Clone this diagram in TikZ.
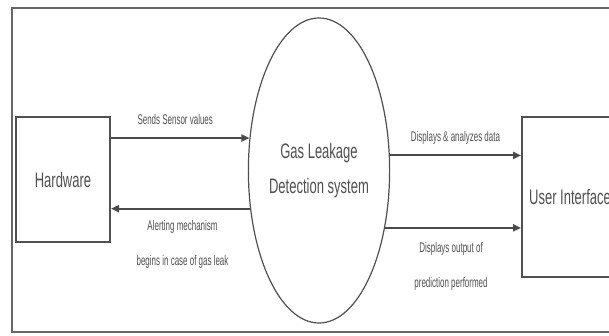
\documentclass[tikz,border=0pt]{standalone}
\usepackage{fontspec}
\setmainfont{Liberation Sans}
\newfontfamily\bigfnt[FakeStretch=0.62]{Liberation Sans}
\newfontfamily\smallfnt[FakeStretch=0.57]{Liberation Sans}
\usetikzlibrary{arrows.meta,shapes.geometric}
\definecolor{linegray}{HTML}{4A4A4A}
\definecolor{textgray}{HTML}{505050}
\begin{document}
\begin{tikzpicture}[x=1pt, y=-1pt, inner sep=0pt,
		>={Triangle[length=8pt,width=7pt]},
		box/.style={draw=linegray, line width=2pt, minimum width=#1},
		flow/.style={textgray, font=\smallfnt\fontsize{14}{35}\selectfont, align=center}]
	\useasboundingbox (0,0) rectangle (609,336);
	\clip (0,0) rectangle (609,336);
	\draw[gray!80!black, line width=2.2pt] (12,8) rectangle (650,332);
	\node[box=94pt, minimum height=125pt, textgray, font=\bigfnt\fontsize{21}{35}\selectfont] (hw) at (63,179.5) {Hardware};
	\node[draw=linegray, line width=1.2pt, ellipse, minimum width=138pt, minimum height=305pt, textgray, align=center, font=\bigfnt\fontsize{21}{35}\selectfont] (sys) at (319,170.5) {Gas Leakage\\Detection system};
	\node[box=96pt, minimum height=160pt, textgray, font=\bigfnt\fontsize{21}{35}\selectfont] (ui) at (570,197) {User Interface};
	\draw[->, linegray, line width=2pt] (hw.east |- sys.155.7) --
		node[flow, midway, xshift=-5pt, yshift=19pt] {Sends Sensor values}
		(sys.155.7);
	\draw[->, linegray, line width=2pt] (sys.209.2) --
		node[flow, midway, xshift=2pt, yshift=-35.5pt] {Alerting mechanism\\begins in case of gas leak}
		(hw.east |- sys.209.2);
	\draw[->, linegray, line width=2pt] (sys.12.7) --
		node[flow, midway, yshift=18pt] {Displays \& analyzes data}
		(ui.west |- sys.12.7);
	\draw[->, linegray, line width=2pt] (sys.319.8) --
		node[flow, midway, xshift=-2pt, yshift=-38.5pt] {Displays output of\\prediction performed}
		(ui.west |- sys.319.8);
\end{tikzpicture}
\end{document}
